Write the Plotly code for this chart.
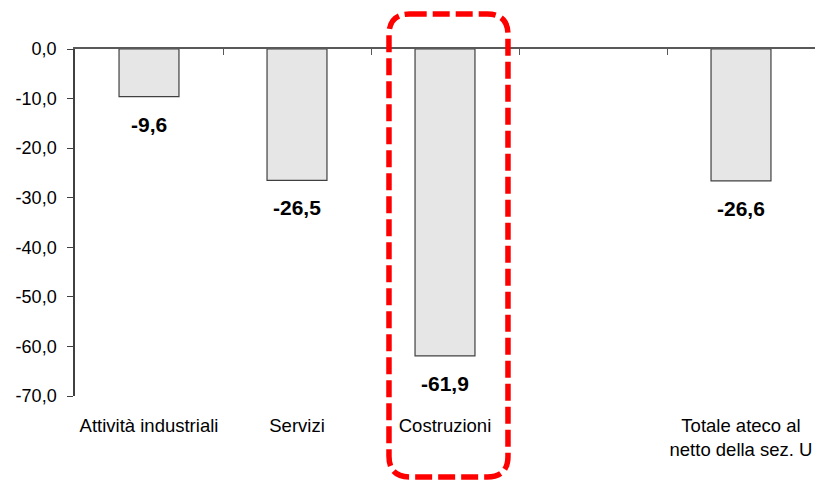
import plotly.graph_objects as go

# Data
categories = ["Attività industriali", "Servizi", "Costruzioni", " ", "Totale ateco al<br>netto della sez. U"]
values = [-9.6, -26.5, -61.9, None, -26.6]
value_labels = ["-9,6", "-26,5", "-61,9", "", "-26,6"]
y_ticks = [0, -10, -20, -30, -40, -50, -60, -70]
y_tick_labels = ["0,0", "-10,0", "-20,0", "-30,0", "-40,0", "-50,0", "-60,0", "-70,0"]

font_family = "Liberation Sans, Arial, sans-serif"
axis_color = "#595959"

fig = go.Figure()

fig.add_trace(go.Bar(
    x=categories, y=values,
    width=0.405,
    marker=dict(color="#e6e6e6", line=dict(color="#404040", width=1.2)),
    showlegend=False, hoverinfo="skip",
))

# invisible trace for the top (zero-line) axis with boundary ticks
fig.add_trace(go.Scatter(
    x=categories, y=[0] * len(categories), xaxis="x2",
    mode="markers", marker=dict(opacity=0), showlegend=False, hoverinfo="skip",
))

# value labels below the bars
for cat, val, lab in zip(categories, values, value_labels):
    if val is None:
        continue
    fig.add_annotation(
        x=cat, y=val, text="<b>" + lab + "</b>", showarrow=False,
        yanchor="top", yshift=-14,
        font=dict(family=font_family, size=21, color="#000000"),
    )

# red dashed rounded box around "Costruzioni"
x0, x1 = 0.4243, 0.5851
y0, y1 = -0.2334, 1.1009
rx, ry = 0.028, 0.06
path = (
    f"M {x0 + rx},{y1} L {x1 - rx},{y1} Q {x1},{y1} {x1},{y1 - ry} "
    f"L {x1},{y0 + ry} Q {x1},{y0} {x1 - rx},{y0} "
    f"L {x0 + rx},{y0} Q {x0},{y0} {x0},{y0 + ry} "
    f"L {x0},{y1 - ry} Q {x0},{y1} {x0 + rx},{y1} Z"
)
fig.add_shape(
    type="path", path=path, xref="paper", yref="paper", layer="above",
    line=dict(color="#ff0000", width=5.5, dash="17px,6px"),
)

fig.update_layout(
    width=817, height=482,
    margin=dict(l=75, r=2, t=49, b=86),
    paper_bgcolor="white", plot_bgcolor="white",
    separators=",.",
    font=dict(family=font_family, size=18, color="#000000"),
    xaxis=dict(
        type="category", categoryarray=categories, range=[-0.5, 4.5],
        showline=False, ticks="", showgrid=False, ticklabelstandoff=16,
        tickfont=dict(family=font_family, size=18.5, color="#000000"),
    ),
    xaxis2=dict(
        type="category", categoryarray=categories, range=[-0.5, 4.5],
        overlaying="x", side="top", anchor="y",
        showline=True, linecolor=axis_color, linewidth=1.5,
        ticks="inside", tickson="boundaries", ticklen=6, tickcolor=axis_color,
        showticklabels=False, showgrid=False,
    ),
    yaxis=dict(
        range=[-70, 0], tickvals=y_ticks, ticktext=y_tick_labels,
        showline=True, linecolor="#404040", linewidth=1.5,
        ticks="outside", ticklen=6, tickcolor="#404040",
        showgrid=False, zeroline=False, ticklabelstandoff=7,
        tickfont=dict(family=font_family, size=18, color="#000000"),
    ),
)

# drop the default page margin so the figure fills the window
fig.write_html("out.html", config={"displayModeBar": False},
               post_script="document.body.style.margin='0';")
